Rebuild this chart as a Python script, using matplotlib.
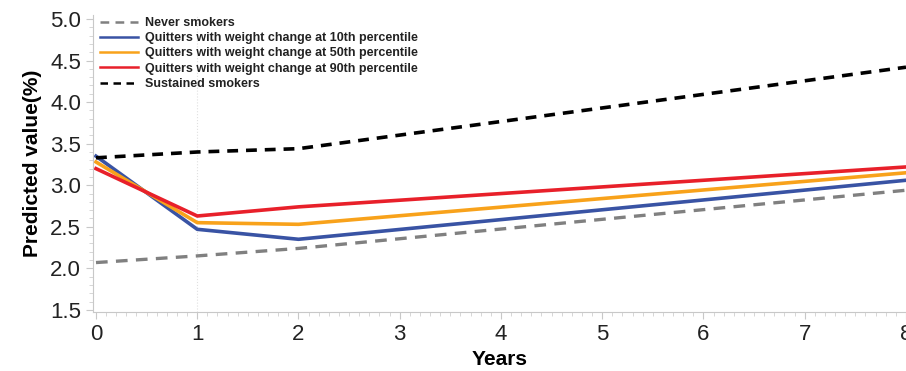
import numpy as np
import matplotlib.pyplot as plt
from matplotlib.ticker import MultipleLocator

# values (years 0, 1, 2, 8)
years = [0, 1, 2, 8]
never = [2.07, 2.15, 2.24, 2.94]
q10 = [3.35, 2.47, 2.35, 3.06]
q50 = [3.28, 2.55, 2.53, 3.15]
q90 = [3.20, 2.63, 2.74, 3.22]
sustained = [3.33, 3.40, 3.44, 4.42]

labels = ['Never smokers',
          'Quitters with weight change at 10th percentile',
          'Quitters with weight change at 50th percentile',
          'Quitters with weight change at 90th percentile',
          'Sustained smokers']

plt.rcParams['font.family'] = ['Liberation Sans Narrow', 'Liberation Sans', 'DejaVu Sans']

fig = plt.figure(figsize=(9.06, 3.71), dpi=100)
ax = fig.add_axes([0.1026, 0.159, 0.8974, 0.801])

ax.axvline(1, color='#e0e0e0', lw=0.8, ls=':', zorder=0)

ax.plot(years, never, color='#808080', lw=2.4, ls=(0, (3.5, 2.5)), label=labels[0])
ax.plot(years, q10, color='#3953a4', lw=2.6, label=labels[1])
ax.plot(years, q50, color='#f8a21b', lw=2.6, label=labels[2])
ax.plot(years, q90, color='#e8202a', lw=2.6, label=labels[3])
ax.plot(years, sustained, color='black', lw=2.6, ls=(0, (3, 2.2)), label=labels[4])

ax.set_xlim(-0.03, 8.0)
ax.set_ylim(1.475, 5.05)
ax.set_yticks(np.arange(1.5, 5.01, 0.5))
ax.set_xticks(range(0, 9))
ax.xaxis.set_minor_locator(MultipleLocator(0.1))
ax.yaxis.set_minor_locator(MultipleLocator(0.1))

for s in ['top', 'right']:
    ax.spines[s].set_visible(False)
for s in ['left', 'bottom']:
    ax.spines[s].set_color('#c8c8c8')
ax.tick_params(which='major', length=5, color='#c8c8c8', labelsize=16, labelcolor='#222222')
ax.tick_params(which='minor', length=3, color='#d0d0d0')

ax.set_xlabel('Years', fontsize=15, fontweight='bold', family=['Liberation Sans', 'DejaVu Sans'], labelpad=4)
ax.set_ylabel('Predicted value(%)', fontsize=15, fontweight='bold', family=['Liberation Sans', 'DejaVu Sans'], labelpad=6)

leg = ax.legend(loc='upper left', bbox_to_anchor=(0.0, 1.018), frameon=False, handlelength=3.0,
                handletextpad=0.6, labelspacing=0.26, borderaxespad=0.2,
                prop={'family': ['Liberation Sans', 'DejaVu Sans'], 'weight': 'bold', 'size': 9.0})
for t in leg.get_texts():
    t.set_color('#222222')
for h in leg.get_lines():
    h.set_linewidth(1.8)

fig.savefig('out.png', dpi=100)
